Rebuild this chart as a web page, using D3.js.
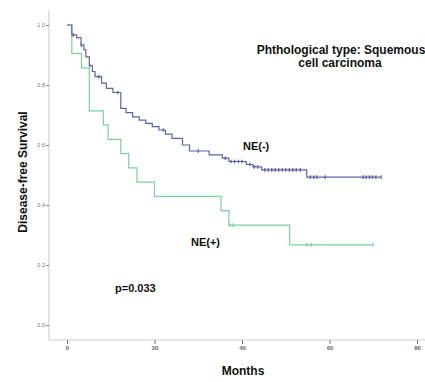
<!DOCTYPE html>
<html>
<head>
<meta charset="utf-8">
<script src="https://cdn.jsdelivr.net/npm/d3@7"></script>
<style>
  html, body { margin: 0; padding: 0; background: #fff; }
  svg { display: block; font-family: "Liberation Sans", Arial, sans-serif; }
</style>
</head>
<body>
<svg id="chart" width="425" height="382"></svg>
<script>
// Kaplan-Meier steps: [month, survival after the drop]
const neNegEvents = [
  [1.1, 0.967], [2.2, 0.958], [3.2, 0.933], [3.9, 0.917], [4.3, 0.894],
  [5.1, 0.865], [5.8, 0.845], [6.4, 0.828], [7.9, 0.806], [9.0, 0.789],
  [10.5, 0.775], [12.3, 0.722], [13.5, 0.708], [15.0, 0.694], [16.5, 0.683],
  [18.0, 0.672], [19.5, 0.661], [21.0, 0.650], [22.5, 0.636], [24.0, 0.622],
  [26.4, 0.600], [28.0, 0.580], [32.5, 0.567], [35.5, 0.556], [37.0, 0.545],
  [41.0, 0.535], [42.5, 0.527], [44.5, 0.517], [54.8, 0.493]
];
const neNegCensored = [
  1.4, 3.3, 5.2, 7.3, 11.6, 22.0, 30.0, 36.2, 37.5, 38.3, 39.2, 40.0, 41.8,
  42.8, 43.6, 45.2, 46.0, 46.8, 47.6, 48.4, 49.2, 50.0, 50.8, 51.6, 52.4,
  53.3, 55.6, 56.4, 57.1, 59.0, 67.7, 68.4, 69.1, 69.8, 70.6, 71.8
];
const neNegEnd = 71.8;

const nePosEvents = [
  [1.1, 0.905], [3.3, 0.857], [5.1, 0.714], [8.3, 0.667], [9.4, 0.619],
  [12.3, 0.571], [14.1, 0.524], [16.0, 0.476], [20.0, 0.429], [35.2, 0.381],
  [37.0, 0.333], [50.9, 0.267]
];
const nePosCensored = [37.2, 37.9, 54.8, 55.8, 69.9];
const nePosEnd = 69.9;

const xTicks = [0, 20, 40, 60, 80];
const yTicks = [0.0, 0.2, 0.4, 0.6, 0.8, 1.0];

const svg = d3.select("#chart");
const x = d3.scaleLinear().domain([0, 80]).range([67, 417]);
const y = d3.scaleLinear().domain([0, 1]).range([325, 25]);

const axisColor = "#cfcfcf";
const axisX0 = 49, axisY0 = 340;

// frame lines
svg.append("line").attr("x1", axisX0).attr("x2", axisX0).attr("y1", 10).attr("y2", axisY0)
  .attr("stroke", axisColor).attr("stroke-width", 1.2);
svg.append("line").attr("x1", axisX0).attr("x2", 425).attr("y1", axisY0).attr("y2", axisY0)
  .attr("stroke", axisColor).attr("stroke-width", 1.2);

// y axis
const gy = svg.append("g").attr("transform", `translate(${axisX0},0)`)
  .call(d3.axisLeft(y).tickValues(yTicks).tickFormat(d3.format(".1f")).tickSize(3).tickPadding(1));
gy.select(".domain").remove();
gy.selectAll(".tick line").attr("stroke", "#888");
gy.selectAll(".tick text").attr("font-size", 5.5).attr("fill", "#777").attr("font-family", "Liberation Sans, Arial, sans-serif");

// x axis
const gx = svg.append("g").attr("transform", `translate(0,${axisY0})`)
  .call(d3.axisBottom(x).tickValues(xTicks).tickFormat(d3.format("d")).tickSize(4).tickPadding(2));
gx.select(".domain").remove();
gx.selectAll(".tick line").attr("stroke", "#777");
gx.selectAll(".tick text").attr("font-size", 6).attr("font-weight", "bold").attr("fill", "#666")
  .attr("font-family", "Liberation Sans, Arial, sans-serif");

// step survival function
function survivalAt(events, t) {
  let s = 1;
  for (const [et, es] of events) { if (et <= t) s = es; else break; }
  return s;
}
function stepPoints(events, end) {
  const pts = [[0, 1]];
  let s = 1;
  for (const [t, ns] of events) { pts.push([t, s]); pts.push([t, ns]); s = ns; }
  pts.push([end, s]);
  return pts;
}
const line = d3.line().x(d => x(d[0])).y(d => y(d[1]));

function drawCurve(events, censored, end, color) {
  svg.append("path").attr("d", line(stepPoints(events, end)))
    .attr("fill", "none").attr("stroke", color).attr("stroke-width", 1.2);
  svg.append("g").selectAll("line").data(censored).join("line")
    .attr("x1", d => x(d)).attr("x2", d => x(d))
    .attr("y1", d => y(survivalAt(events, d)) - 1.8)
    .attr("y2", d => y(survivalAt(events, d)) + 1.8)
    .attr("stroke", color).attr("stroke-width", 1.3);
}

drawCurve(nePosEvents, nePosCensored, nePosEnd, "#78d1a3");
drawCurve(neNegEvents, neNegCensored, neNegEnd, "#5f63a8");

// labels
const bold = sel => sel.attr("font-weight", "bold").attr("fill", "#111");
svg.append("text").attr("x", 341).attr("y", 54).attr("text-anchor", "middle")
  .attr("font-size", 12).text("Phthological type: Squemous").call(bold);
svg.append("text").attr("x", 340).attr("y", 67).attr("text-anchor", "middle")
  .attr("font-size", 12).text("cell carcinoma").call(bold);
svg.append("text").attr("x", 243).attr("y", 150).attr("font-size", 11).text("NE(-)").call(bold);
svg.append("text").attr("x", 191).attr("y", 246).attr("font-size", 11).text("NE(+)").call(bold);
svg.append("text").attr("x", 115).attr("y", 292).attr("font-size", 11).text("p=0.033").call(bold);
svg.append("text").attr("x", 243).attr("y", 375).attr("text-anchor", "middle")
  .attr("font-size", 12).text("Months").call(bold);
svg.append("text").attr("transform", "translate(27,172) rotate(-90)").attr("text-anchor", "middle")
  .attr("font-size", 12).text("Disease-free Survival").call(bold);
</script>
</body>
</html>
